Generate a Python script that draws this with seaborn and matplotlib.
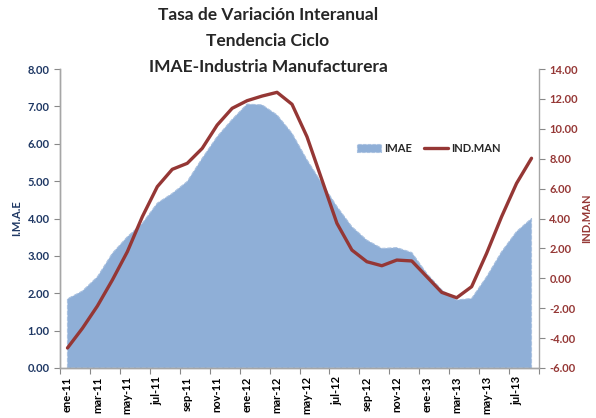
import numpy as np
import pandas as pd
import seaborn as sns
from matplotlib import pyplot as plt

meses = ['ene', 'feb', 'mar', 'abr', 'may', 'jun', 'jul', 'ago', 'sep', 'oct', 'nov', 'dic']
periodos = [f'{m}-{a}' for a in ['11', '12', '13'] for m in meses][:32]

imae = [1.85, 2.06, 2.44, 3.07, 3.51, 3.87, 4.41, 4.67, 4.99, 5.61, 6.19, 6.65,
        7.06, 7.04, 6.77, 6.28, 5.57, 4.94, 4.32, 3.78, 3.42, 3.20, 3.22, 3.09,
        2.53, 2.09, 1.82, 1.86, 2.44, 3.11, 3.65, 4.00]
ind_man = [-4.66, -3.34, -1.85, -0.11, 1.78, 4.12, 6.13, 7.29, 7.69, 8.69, 10.25, 11.37,
           11.88, 12.19, 12.44, 11.64, 9.47, 6.58, 3.68, 1.89, 1.11, 0.84, 1.22, 1.16,
           0.11, -0.94, -1.30, -0.56, 1.67, 4.12, 6.35, 8.03]

data = pd.DataFrame({'periodo': periodos, 'IMAE': imae, 'IND.MAN': ind_man})
data['pos'] = np.arange(len(data))

sns.set_style('white')
plt.rcParams['font.family'] = ['Lato', 'DejaVu Sans']

azul = '#1F3864'
rojo = '#953735'
area_col = '#8FAFD7'

fig = plt.figure(figsize=(5.96, 4.18), dpi=100)
ax = fig.add_axes([60/596, 1 - 368/418, (539 - 60)/596, (368 - 69)/418])
ax2 = ax.twinx()

# area IMAE (eje izquierdo)
ax.fill_between(data['pos'], data['IMAE'], 0, color=area_col, edgecolor='#A9C1E0',
                linestyle='--', linewidth=0.8, label='IMAE')

# linea IND.MAN (eje derecho)
sns.lineplot(x='pos', y='IND.MAN', data=data, ax=ax2, color=rojo, linewidth=2.4,
             label='IND.MAN', legend=False)

ax.set_xlim(-0.5, 31.5)
ax.set_ylim(0, 8)
ax2.set_ylim(-6, 14)

ax.set_yticks(np.arange(0, 8.01, 1))
ax.set_yticklabels([f'{v:.2f}' for v in np.arange(0, 8.01, 1)], color=azul,
                   fontweight='bold', fontsize=8)
ax2.set_yticks(np.arange(-6, 14.01, 2))
ax2.set_yticklabels([f'{v:.2f}' for v in np.arange(-6, 14.01, 2)], color=rojo,
                    fontweight='bold', fontsize=8)

# marcas en los limites de categoria, etiquetas cada dos meses
ax.set_xticks(np.arange(-0.5, 31.6, 2))
ax.set_xticklabels([])
ax.set_xticks(data['pos'][::2], minor=True)
ax.set_xticklabels(data['periodo'][::2], minor=True, rotation=90, fontweight='bold',
                   fontsize=8, color='black')
ax.tick_params(axis='x', which='major', length=4, color='#888888', direction='out', bottom=True)
ax.tick_params(axis='x', which='minor', length=0, pad=6)
ax.tick_params(axis='y', length=4, color='#888888', direction='out', left=True)
ax2.tick_params(axis='y', length=4, color='#888888', direction='out', right=True)
ax2.set_xlabel('')

ax.set_ylabel('I.M.A.E', color=azul, fontweight='bold', fontsize=8, labelpad=4)
ax2.set_ylabel('IND.MAN', color=rojo, fontweight='bold', fontsize=8, labelpad=2)

for a in (ax, ax2):
    a.spines['top'].set_visible(False)
    for s in ('left', 'right', 'bottom'):
        a.spines[s].set_color('#A6A6A6')
        a.spines[s].set_linewidth(1)
ax.spines['right'].set_visible(False)

fig.text(268/596, 1 - 7/418,
         'Tasa de Variación Interanual\nTendencia Ciclo\nIMAE-Industria Manufacturera',
         ha='center', va='top', fontsize=12.5, fontweight='bold', linespacing=1.75)

h1, l1 = ax.get_legend_handles_labels()
h2, l2 = ax2.get_legend_handles_labels()
ax2.legend(h1 + h2, l1 + l2, loc='center', bbox_to_anchor=(0.77, 0.735), ncol=2,
           frameon=False, prop={'weight': 'bold', 'size': 8}, handlelength=2.2,
           handletextpad=0.3, columnspacing=1.0)

plt.savefig('out.png', dpi=100)
